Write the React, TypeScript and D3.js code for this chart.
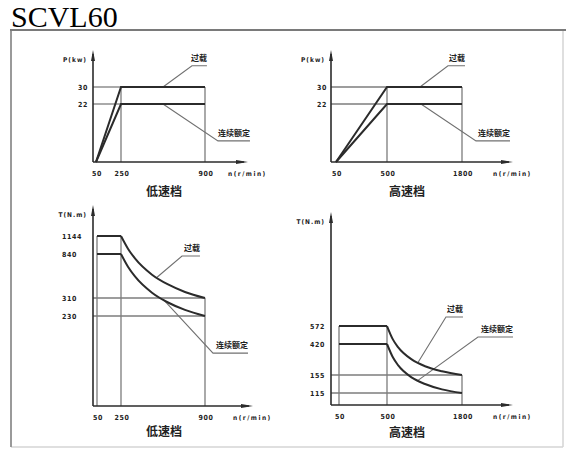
import React from "react";
import * as d3 from "d3";

type Pt = [number, number];

const TITLE = "SCVL60";
const LOW_GEAR = "低速档";
const HIGH_GEAR = "高速档";
const OVERLOAD = "过载";
const RATED = "连续额定";
const POWER_LABEL = "P(kw)";
const TORQUE_LABEL = "T(N.m)";
const SPEED_LABEL = "n(r/min)";

// speed ticks (r/min)
const lowGearSpeeds = [50, 250, 900];
const highGearSpeeds = [50, 500, 1800];
// value ticks
const powerTicks = [22, 30];
const lowTorqueTicks = [230, 310, 840, 1144];
const highTorqueTicks = [115, 155, 420, 572];

// power curves (n, kW)
const lowPowerOverload: Pt[] = [[50, 0], [250, 30], [900, 30]];
const lowPowerRated: Pt[] = [[50, 0], [250, 22], [900, 22]];
const highPowerOverload: Pt[] = [[50, 0], [500, 30], [1800, 30]];
const highPowerRated: Pt[] = [[50, 0], [500, 22], [1800, 22]];

// torque curves (n, N.m)
const lowTorqueOverloadFlat: Pt[] = [[50, 1144], [250, 1144]];
const lowTorqueOverloadCurve: Pt[] = [[250, 1144], [304, 930], [358, 787], [490, 591], [614, 473], [745, 383], [900, 310]];
const lowTorqueRatedFlat: Pt[] = [[50, 840], [250, 840]];
const lowTorqueRatedCurve: Pt[] = [[250, 840], [304, 687], [358, 570], [490, 374], [614, 290], [745, 257], [900, 230]];
const highTorqueOverloadFlat: Pt[] = [[50, 572], [500, 572]];
const highTorqueOverloadCurve: Pt[] = [[500, 572], [604, 457], [691, 393], [933, 286], [1159, 230], [1453, 187], [1800, 155]];
const highTorqueRatedFlat: Pt[] = [[50, 420], [500, 420]];
const highTorqueRatedCurve: Pt[] = [[500, 420], [604, 304], [691, 239], [933, 149], [1159, 135], [1453, 123], [1800, 115]];

// thin guide lines
const lowPowerGuides: Pt[][] = [[[0, 30], [250, 30]], [[0, 22], [250, 22]], [[250, 30], [250, 0]], [[900, 30], [900, 0]]];
const highPowerGuides: Pt[][] = [[[0, 30], [500, 30]], [[0, 22], [500, 22]], [[500, 30], [500, 0]], [[1800, 30], [1800, 0]]];
const lowTorqueGuides: Pt[][] = [[[50, 1144], [50, 0]], [[250, 1144], [250, 0]], [[900, 310], [900, 0]], [[0, 310], [900, 310]], [[0, 230], [900, 230]]];
const highTorqueGuides: Pt[][] = [[[50, 572], [50, 0]], [[500, 572], [500, 0]], [[1800, 155], [1800, 0]], [[0, 155], [1800, 155]], [[0, 115], [1800, 115]]];

// callout leaders (n, value)
const lowPowerOverloadLeader: Pt[] = [[575, 30], [799, 40], [915, 40]];
const lowPowerRatedLeader: Pt[] = [[575, 22], [1000, 8], [1248, 8]];
const highPowerOverloadLeader: Pt[] = [[1072, 30], [1557, 40], [1852, 40]];
const highPowerRatedLeader: Pt[] = [[1089, 22], [2042, 8], [2632, 8]];
const lowTorqueOverloadLeader: Pt[] = [[529, 560], [722, 816], [861, 816]];
const lowTorqueRatedLeader: Pt[] = [[575, 305], [962, 135], [1233, 135]];
const highTorqueOverloadLeader: Pt[] = [[1037, 262], [1522, 648], [1817, 648]];
const highTorqueRatedLeader: Pt[] = [[1037, 143], [2077, 479], [2684, 479]];

interface PanelCfg {
  xTicks: number[];
  yTicks: number[];
  yLabel: string;
  gear: string;
  thick: Pt[][];
  curves: Pt[][];
  guides: Pt[][];
  leaders: { pts: Pt[]; text: string }[];
  xRange: number[];
  yRange: number[];
  top: number;
  right: number;
  gearX: number;
  gearY: number;
  yTickX: number;
  yTickAnchor: "start" | "end";
}

const panels: PanelCfg[] = [
  {
    xTicks: lowGearSpeeds, yTicks: powerTicks, yLabel: POWER_LABEL, gear: LOW_GEAR,
    thick: [lowPowerOverload, lowPowerRated], curves: [], guides: lowPowerGuides,
    leaders: [{ pts: lowPowerOverloadLeader, text: OVERLOAD }, { pts: lowPowerRatedLeader, text: RATED }],
    xRange: [93, 96, 121, 205], yRange: [162, 104, 87], top: 50, right: 248,
    gearX: 164, gearY: 196, yTickX: 88, yTickAnchor: "end",
  },
  {
    xTicks: highGearSpeeds, yTicks: powerTicks, yLabel: POWER_LABEL, gear: HIGH_GEAR,
    thick: [highPowerOverload, highPowerRated], curves: [], guides: highPowerGuides,
    leaders: [{ pts: highPowerOverloadLeader, text: OVERLOAD }, { pts: highPowerRatedLeader, text: RATED }],
    xRange: [331, 336, 387, 462], yRange: [162, 104, 87], top: 50, right: 513,
    gearX: 407, gearY: 196, yTickX: 327, yTickAnchor: "end",
  },
  {
    xTicks: lowGearSpeeds, yTicks: lowTorqueTicks, yLabel: TORQUE_LABEL, gear: LOW_GEAR,
    thick: [lowTorqueOverloadFlat, lowTorqueRatedFlat], curves: [lowTorqueOverloadCurve, lowTorqueRatedCurve],
    guides: lowTorqueGuides,
    leaders: [{ pts: lowTorqueOverloadLeader, text: OVERLOAD }, { pts: lowTorqueRatedLeader, text: RATED }],
    xRange: [93, 97, 121, 205], yRange: [406, 316, 298, 254, 236], top: 205, right: 253,
    gearX: 164, gearY: 436, yTickX: 62, yTickAnchor: "start",
  },
  {
    xTicks: highGearSpeeds, yTicks: highTorqueTicks, yLabel: TORQUE_LABEL, gear: HIGH_GEAR,
    thick: [highTorqueOverloadFlat, highTorqueRatedFlat], curves: [highTorqueOverloadCurve, highTorqueRatedCurve],
    guides: highTorqueGuides,
    leaders: [{ pts: highTorqueOverloadLeader, text: OVERLOAD }, { pts: highTorqueRatedLeader, text: RATED }],
    xRange: [331, 339, 387, 462], yRange: [405, 393, 375, 344, 326], top: 212, right: 513,
    gearX: 407, gearY: 437, yTickX: 325, yTickAnchor: "end",
  },
];

const SMALL_FONT = "'DejaVu Sans Condensed', 'DejaVu Sans', sans-serif";
const CJK_FONT = "'Noto Sans CJK SC', 'Noto Sans', sans-serif";
const DARK = "#2b2b2b";
const GRID = "#7c7c7c";

function Panel({ cfg }: { cfg: PanelCfg }) {
  const x = d3.scaleLinear().domain([0, ...cfg.xTicks]).range(cfg.xRange);
  const y = d3.scaleLinear().domain([0, ...cfg.yTicks]).range(cfg.yRange);
  const straight = d3.line<Pt>().x((d) => x(d[0])).y((d) => y(d[1]));
  const smooth = d3.line<Pt>().x((d) => x(d[0])).y((d) => y(d[1])).curve(d3.curveMonotoneX);
  const ox = x(0);
  const oy = y(0);
  return (
    <g>
      {cfg.guides.map((g, i) => (
        <path key={"g" + i} d={straight(g) || ""} stroke={GRID} strokeWidth={1.3} fill="none" />
      ))}
      {cfg.leaders.map((l, i) => {
        const end = l.pts[l.pts.length - 1];
        return (
          <g key={"l" + i}>
            <path d={straight(l.pts) || ""} stroke="#707070" strokeWidth={1.1} fill="none" />
            <text x={x(end[0])} y={y(end[1]) - 5} textAnchor="end" fontFamily={CJK_FONT} fontWeight="bold" fontSize={8} fill="#222">
              {l.text}
            </text>
          </g>
        );
      })}
      {cfg.thick.map((t, i) => (
        <path key={"t" + i} d={straight(t) || ""} stroke={DARK} strokeWidth={2} fill="none" strokeLinejoin="miter" />
      ))}
      {cfg.curves.map((c, i) => (
        <path key={"c" + i} d={smooth(c) || ""} stroke={DARK} strokeWidth={2} fill="none" />
      ))}
      {/* axes */}
      <line x1={ox} y1={oy} x2={ox} y2={cfg.top + 4} stroke={DARK} strokeWidth={1.6} />
      <line x1={ox} y1={oy} x2={cfg.right - 4} y2={oy} stroke={DARK} strokeWidth={1.6} />
      <path d={`M${ox},${cfg.top} L${ox - 2},${cfg.top + 11} L${ox + 2},${cfg.top + 11} Z`} fill={DARK} />
      <path d={`M${cfg.right},${oy} L${cfg.right - 12},${oy - 2} L${cfg.right - 12},${oy + 2} Z`} fill={DARK} />
      {/* labels */}
      <text x={ox - 6} y={cfg.top + 12} textAnchor="end" fontFamily={SMALL_FONT} fontWeight="bold" fontSize={6.5} letterSpacing={1} fill="#222">
        {cfg.yLabel}
      </text>
      {cfg.yTicks.map((v) => (
        <text key={"yt" + v} x={cfg.yTickX} y={y(v) + 2.5} textAnchor={cfg.yTickAnchor} fontFamily={SMALL_FONT} fontWeight="bold" fontSize={7} letterSpacing={0.6} fill="#222">
          {v}
        </text>
      ))}
      {cfg.xTicks.map((v) => (
        <text key={"xt" + v} x={x(v) + 1} y={oy + 14} textAnchor="middle" fontFamily={SMALL_FONT} fontWeight="bold" fontSize={7} letterSpacing={0.6} fill="#222">
          {v}
        </text>
      ))}
      <text x={cfg.right - 20} y={oy + 14} textAnchor="start" fontFamily={SMALL_FONT} fontWeight="bold" fontSize={6.5} letterSpacing={1.5} fill="#222">
        {SPEED_LABEL}
      </text>
      <text x={cfg.gearX} y={cfg.gearY} textAnchor="middle" fontFamily={CJK_FONT} fontWeight="bold" fontSize={12} fill="#222">
        {cfg.gear}
      </text>
    </g>
  );
}

export default function App() {
  return (
    <svg
      width={566}
      height={451}
      viewBox="0 0 566 451"
      style={{ position: "absolute", left: 0, top: 0, display: "block", background: "#fff" }}
    >
      <rect x={0} y={0} width={566} height={451} fill="#fff" />
      <text x={11} y={27} fontFamily="'Liberation Serif', 'Times New Roman', serif" fontSize={30} fill="#000">
        {TITLE}
      </text>
      {/* frame */}
      <line x1={11} y1={447} x2={563} y2={447} stroke="#d4d4d4" strokeWidth={1.5} />
      <line x1={563} y1={30} x2={563} y2={447} stroke="#d4d4d4" strokeWidth={1.5} />
      <line x1={11} y1={30} x2={11} y2={447} stroke="#9a9a9a" strokeWidth={2} />
      <line x1={10} y1={30} x2={566} y2={30} stroke="#7a7a7a" strokeWidth={2} />
      {panels.map((p, i) => (
        <Panel key={i} cfg={p} />
      ))}
    </svg>
  );
}
